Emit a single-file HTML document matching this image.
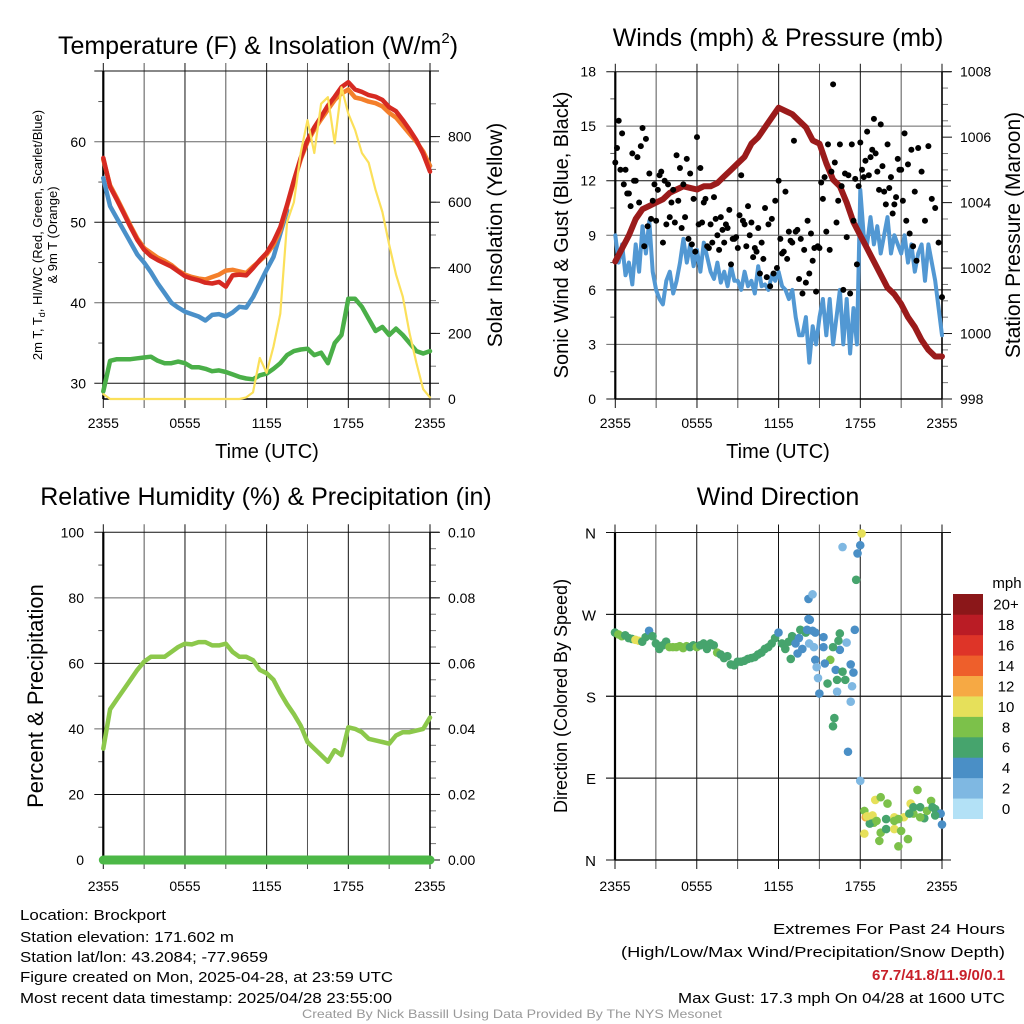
<!DOCTYPE html>
<html><head><meta charset="utf-8"><style>
html,body{margin:0;padding:0;background:#fff;}
svg{display:block;font-family:"Liberation Sans",Arial,sans-serif;}
</style></head><body>
<svg id="chart" width="1024" height="1024" viewBox="0 0 1024 1024">
<rect width="1024" height="1024" fill="#fff"/>
</svg>
<script>
// ---------- DATA (half-hourly, t = 0..24 h since 2355 UTC) ----------
const timeLabels = ["2355","0555","1155","1755","2355"];
const tempRed = [58,54.4,52.8,51.1,49.4,47.8,46.6,45.8,45.3,44.9,44.5,43.9,43.3,43,42.8,42.5,42.4,42.6,42,43.4,43.5,43.4,44.3,45.3,46.2,47.6,49.4,52.2,55.2,58,60.2,61.8,63.1,64.5,65.6,66.8,67.4,66.5,66.2,65.8,65.6,65.2,64.3,63.8,62.7,61.5,60.2,58.5,56.3];
const temp9m = [57.8,54.6,53,51.3,49.6,48,46.8,46.2,45.6,45.2,44.7,44,43.5,43.2,43,42.9,43.2,43.5,44,44.1,43.9,43.7,44.5,45.2,46,47.2,49,52,55,57.8,60,61.5,62.8,64,65.2,66,66.5,65.5,65.3,65,64.8,64.4,63.6,63,62,61,60,58.8,57];
const windChill = [55.5,52,50.5,49,47.5,46,45,43.8,42.4,41.2,40,39.4,38.9,38.6,38.3,37.8,38.5,38.6,38.3,38.8,39.5,39.4,40.7,42.4,44.1,45.7,48.6,51.5,null,null,null,null,null,null,null,null,null,null,null,null,null,null,null,null,null,null,null,58.5,57];
const dewpoint = [29,32.8,33,33,33,33.1,33.2,33.3,32.8,32.5,32.5,32.7,32.5,32,32,31.8,31.5,31.6,31.4,31.1,30.8,30.6,30.5,31,31.2,31.8,32.5,33.5,34,34.2,34.3,33.5,33.8,32.5,35,36,40.5,40.5,39.5,38,36.5,37,36,36.8,36,35,34,33.7,34];
const solar = [15,0,0,0,0,0,0,0,0,0,0,0,0,0,0,0,0,0,0,0,0,5,20,125,80,160,260,540,600,750,850,750,900,920,780,950,870,820,750,720,637,570,470,380,312,200,110,30,5];
// sonic wind every 0.25 h
const windSpeed = [9,7.5,8.5,6.8,7.5,6.3,8.5,7,9.5,8,9.8,7,
6,5.5,5.2,6.5,7,5.8,6.5,7.5,8.8,7.5,8.5,7.3,
8.2,7,8.6,7.8,7,6.6,7.5,6.4,7,6.2,7.3,6.5,
6.5,6,7,6.2,6.5,5.8,7.3,6.2,6.3,6,6.8,6.5,
7,6.2,6,5.5,6,4.5,3.5,3.5,4.5,2,4,3,
4.5,5.5,3.5,5.5,3,4.5,6,3,5.5,2.5,5,3,
11.5,9,8.5,10,8.5,9.5,8,9,10,8,9,8.5,
8,9,7.5,8.5,7,8,8.5,6.5,8.5,7.5,6.5,5,3.5];
const pressure = [1002.2,1002.6,1003,1003.5,1003.8,1003.9,1004,1004.1,1004.3,1004.4,1004.5,1004.45,1004.4,1004.5,1004.5,1004.6,1004.8,1005,1005.2,1005.4,1005.8,1006,1006.3,1006.6,1006.9,1006.8,1006.7,1006.5,1006.3,1005.9,1005.8,1005.2,1004.7,1004.5,1004,1003.4,1003,1002.6,1002.2,1001.8,1001.4,1001.2,1000.9,1000.5,1000.2,999.8,999.5,999.3,999.3];
// gusts every 0.25 h
const gustA = [13,15.3,14.6,12.6,11.3,13.5,12,10.8,14.9,14.3,12.4,10.9,9.8,12.3,8.6,9.6,10,11.5,13.4,12.7,11.8,13.2,12.4,11,14.4,12.7,10.8,8.4,9.6,11.1,9,10,8.6,9.4,7.4,8.8,8.3,12.3,9.6,10.6,9.7,8.3,9.4,8.6,10.5,9.6,9.9,10.9,12,8,11.4,9.2,8.6,9.2,6.6,5.8,6.4,6.9,7.6,5.9,8.3,11,9.2,8.2,17.3,9.7,14,6,8.9,5.8,9.8,7.4,14.1,12.2,14.7,13.3,15.4,12.5,15.1,11.4,14,12.2,10.7,13.2,12.6,14.6,12.9,13.7,11.4,13.8,12.5,9.8,13.9,11,10.5,8.6,5.6];
// gusts offset by 0.125 h
const gustB = [13.8,12.6,11.8,11.3,10.6,12,13.3,13.9,8.4,9.5,9.9,11.8,11.5,12.5,12,11.8,10.8,9.7,10.9,9.4,10,8.8,8.5,8.1,9.6,9.7,11,8.3,8.6,9.9,8.2,9.3,9.6,10.4,8.8,8.9,10.1,9.8,8.4,9,7.8,8.1,6.9,7.7,6.7,6.2,6.9,7.2,8.8,8.1,7.7,8.7,14.2,9.3,8.8,8.2,9.8,9.1,8.3,8.4,11.9,12.2,14,12.5,13,10.9,11.7,12.4,12.3,14,12.1,11.7,12.6,13.1,12.3,13.7,13.5,11.5,12.8,10.7,11.6,10.2,11.1,12.6,10.9,9.8,9.1,8.4,7.6];
const rh = [34,46,49,52,55,58,60.5,62,62,62,63.5,65,66,65.8,66.5,66.5,65.5,65.5,66,63.5,62,62,61,58,57,55,51,47.5,44.5,41,36,34,32,30,33.5,32,40.5,40,39,37,36.5,36,35.5,38,39,39,39.5,40,43.5];
const precip = [0,0,0,0,0,0,0,0,0,0,0,0,0,0,0,0,0,0,0,0,0,0,0,0,0];
const dirTimes = [0,0.25,0.5,0.75,1,1.25,1.5,1.75,2,2.25,2.5,2.75,3,3.25,3.5,3.75,4,4.25,4.5,4.75,5,5.25,5.5,5.75,6,6.25,6.5,6.75,7,7.25,7.5,7.75,8,8.25,8.5,8.75,9,9.25,9.5,9.75,10,10.25,10.5,10.75,11,11.25,11.5,11.75,12,12.25,12.5,12.75,13,13.25,13.5,13.75,14,14.25,14.5,14.2,14.5,14.2,14.3,14.7,15.3,14.6,15.3,15.8,14.7,15.4,14.8,15.6,14.9,15,16.2,16.3,16.3,16.5,16.4,17,16.7,16.9,17.3,17.5,17.4,17.3,16.7,16.1,16,17.1,18,17.7,17.8,18,18.1,17.6,16.5,16,13.4,12.9,13.6,14.1,18.3,18.4,18.9,19.1,19.5,20,19,19.4,19.5,19.9,20.5,20.5,20.8,21,21.2,21.5,21.7,21.9,22.2,22.4,22.7,23.2,23.5,23.8,23.9,24,18.3,18.7,19.9,20.5,21.6,21.9,22.9,23.3,23.5,22.4,18.5,19.2,20.8];
const dirValues = [250,248,246,247,244,243,242,241,240,245,252,246,238,232,236,240,234,234,234,235,233,235,234,236,234,236,238,232,238,236,228,226,222,224,215,214,218,218,219,221,222,223,226,228,232,234,238,244,250,238,232,240,246,238,244,232,250,238,252,287,292,265,264,250,245,234,234,220,220,216,212,194,200,183,209,198,185,249,241,239,207,198,215,206,191,174,344,156,147,119,87,308,337,346,359,253,231,234,227,221,253,253,54,47,49,66,69,62,41,21,30,34,34,47,15,32,47,23,62,51,77,58,46,65,56,51,51,39,29,40,45,43,51,58,54,58,49,47,48,43,45];
const dirSpeeds = [7,8,8,7,7,7,10,10,6,6,4,6,6,6,6,6,8,8,8,8,8,8,7,6,8,6,6,6,6,6,8,6,6,6,6,6,6,6,6,6,6,6,6,6,6,6,6,6,4,6,6,6,6,4,4,4,6,2,4,4,2,4,4,4,4,2,4,8,4,4,2,6,2,4,4,6,2,6,6,2,6,6,4,4,2,2,2,6,6,4,2,6,4,4,10,4,4,6,4,6,6,4,8,12,10,10,8,8,8,8,8,6,10,10,8,8,10,8,10,8,8,6,6,8,6,6,4,4,10,6,6,8,6,6,8,6,6,8,10,8,8];
const speedBinLabels = ["0","2","4","6","8","10","12","14","16","18","20+"];
const speedColors = ["#b3e1f6","#7fb8e2","#4a8fc6","#46a46d","#7cc14a","#e6e05a","#f6a944","#ee5f2b","#de3428","#ba1c25","#8b1719"];
const extremes = "67.7/41.8/11.9/0/0.1";

// ---------- HELPERS ----------
const NS = "http://www.w3.org/2000/svg";
const svg = document.getElementById("chart");
function mk(tag, attrs, parent){
  const e = document.createElementNS(NS, tag);
  for (const k in attrs) e.setAttribute(k, attrs[k]);
  (parent || svg).appendChild(e);
  return e;
}
function txt(str, x, y, size, anchor, parent, extra){
  const t = mk("text", Object.assign({x:x, y:y, "font-size":size, "text-anchor":anchor||"middle", fill:"#000"}, extra||{}), parent);
  t.textContent = str;
  return t;
}
function panel(name, x0, x1, yT, yB){
  const g = mk("g", {});
  
  
  return {g, x0, x1, yT, yB, xs: t => x0 + t*(x1-x0)/24};
}
function grid(p, hLines, leftMinor, rightTicks){
  const g = mk("g", {}, p.g);
  
  
  for (let h=0; h<=24; h+=3){
    const x = p.xs(h);
    mk("line",{x1:x,x2:x,y1:p.yT-8,y2:p.yB+9,stroke:(h%6? "#555":"#111"),"stroke-width":1},g);
  }
  hLines.forEach((y,i)=>{
    mk("line",{x1:p.x0-9,x2:p.x1+9,y1:y,y2:y,stroke:(i%2?"#111":"#666"),"stroke-width":1},g);
  });
  mk("line",{x1:p.x0-9,x2:p.x1+9,y1:p.yT,y2:p.yT,stroke:"#111","stroke-width":1},g);
  leftMinor.forEach(y=>mk("line",{x1:p.x0-5,x2:p.x0,y1:y,y2:y,stroke:"#555","stroke-width":1},g));
  rightTicks.forEach(y=>mk("line",{x1:p.x1,x2:p.x1+6,y1:y,y2:y,stroke:"#777","stroke-width":1},g));
  mk("line",{x1:p.x0,x2:p.x0,y1:p.yT,y2:p.yB,stroke:"#000","stroke-width":2.2},g);
  mk("line",{x1:p.x1,x2:p.x1,y1:p.yT,y2:p.yB,stroke:"#000","stroke-width":1.6},g);
  mk("line",{x1:p.x0,x2:p.x1,y1:p.yB,y2:p.yB,stroke:"#000","stroke-width":1.6},g);
}
function xLabels(p, y){
  timeLabels.forEach((l,i)=>{
    const t = txt(l, p.xs(i*6), y, 14, "middle", p.g);
    
    
  });
}
function line(p, arr, ys, color, w, name){
  let d = "", pen = false;
  arr.forEach((v,i)=>{
    if (v===null){pen=false;return;}
    const x = p.xs(i*24/(arr.length-1)), y = ys(v);
    d += (pen?"L":"M")+x.toFixed(1)+","+y.toFixed(1);
    pen = true;
  });
  const e = mk("path",{d:d,fill:"none",stroke:color,"stroke-width":w,"stroke-linejoin":"round","stroke-linecap":"round"},p.g);
  
  
  return e;
}
function rotText(str, x, y, size, name){
  const t = txt(str, 0, 0, size, "middle", svg, {transform:`translate(${x},${y}) rotate(-90)`});
  
  
  return t;
}

// ---------- PANEL 1: temperature ----------
(function(){
  const p = panel("temperature-panel", 103.3, 430, 71, 399);
  const yL = v => 383.3 - (v-30)*8.05;
  const yR = v => 399 - v*0.328;
  grid(p, [60,50,40,30].map(yL), [35,45,55,65].map(yL), [100,200,300,400,500,600,700,800,900].map(yR));
  [60,50,40,30].forEach(v=>{const t=txt(String(v),86,yL(v)+5,14,"end",p.g);});
  [0,200,400,600,800].forEach(v=>{const t=txt(String(v),448,yR(v)+5,14,"start",p.g);});
  [0,200,400,600,800].forEach(v=>mk("line",{x1:p.x1,x2:p.x1+10,y1:yR(v),y2:yR(v),stroke:"#111"},p.g));
  xLabels(p, 428);
  line(p, windChill, yL, "#4a90c9", 4.5, "wind-chill-line");
  line(p, temp9m, yL, "#f47f2b", 4.5, "temp-9m-line");
  line(p, tempRed, yL, "#d62a22", 4.5, "temp-2m-line");
  line(p, dewpoint, yL, "#4aaf48", 4.5, "dewpoint-line");
  line(p, solar, yR, "#fbe05a", 2.2, "solar-insolation-line");
  const ti = txt("Temperature (F) & Insolation (W/m", 258, 54, 25, "middle", svg);
  const sup = mk("tspan",{"font-size":15,dy:-11},ti); sup.textContent="2";
  const cl = mk("tspan",{"font-size":25,dy:11},ti); cl.textContent=")";
   
  const xt = txt("Time (UTC)", 267, 458, 20, "middle");  
  const l1 = txt("", 0,0,13,"middle",svg,{transform:"translate(42,235) rotate(-90)"});
  l1.innerHTML = '2m T, T<tspan font-size="9" dy="3">d</tspan><tspan dy="-3">, HI/WC (Red, Green, Scarlet/Blue)</tspan>';
   
  rotText("& 9m T (Orange)", 57, 235, 13, "y-axis-title-line2");
  rotText("Solar Insolation (Yellow)", 502, 235, 21, "y2-axis-title");
})();

// ---------- PANEL 2: winds ----------
(function(){
  const p = panel("winds-panel", 615.3, 942, 71.7, 399);
  const yL = v => 399 - v*18.19;
  const yR = v => 399 - (v-998)*32.73;
  const minL=[], minR=[];
  for(let v=1.5;v<18;v+=3) minL.push(yL(v));
  for(let v=998.5;v<1008;v+=0.5) if(v%2) minR.push(yR(v));
  grid(p, [15,12,9,6,3,0].map(yL), minL, minR);
  [0,3,6,9,12,15,18].forEach(v=>{const t=txt(String(v),596,yL(v)+5,14,"end",p.g);});
  [998,1000,1002,1004,1006,1008].forEach(v=>{mk("line",{x1:p.x1,x2:p.x1+10,y1:yR(v),y2:yR(v),stroke:"#111"},p.g);const t=txt(String(v),960,yR(v)+5,14,"start",p.g);});
  xLabels(p, 428);
  line(p, windSpeed, yL, "#5298d3", 4, "sonic-wind-line");
  line(p, pressure, yR, "#9b1b1b", 6, "pressure-line");
  gustA.forEach((v,i)=>{const c=mk("circle",{cx:p.xs(i*0.25),cy:yL(v),r:3,fill:"#000"},p.g);});
  gustB.forEach((v,i)=>{const c=mk("circle",{cx:p.xs(i*0.25+0.125),cy:yL(v),r:3,fill:"#000"},p.g);});
  const ti = txt("Winds (mph) & Pressure (mb)", 778, 46, 25);  
  const xt = txt("Time (UTC)", 778, 458, 20);  
  rotText("Sonic Wind & Gust (Blue, Black)", 568, 235, 20, "y-axis-title");
  rotText("Station Pressure (Maroon)", 1020, 235, 21, "y2-axis-title");
})();

// ---------- PANEL 3: RH ----------
(function(){
  const p = panel("humidity-panel", 103.3, 430, 532.3, 860);
  const yL = v => 860 - v*3.277;
  const yR = v => 860 - v*3277;
  const minL=[]; for(let v=10;v<100;v+=20) minL.push(yL(v));
  const minR=[]; for(let v=0.005;v<0.1;v+=0.005) minR.push(yR(v));
  grid(p, [80,60,40,20].map(yL), minL, minR);
  [0,20,40,60,80,100].forEach(v=>{const t=txt(String(v),84,yL(v)+5,14,"end",p.g);});
  ["0.00","0.02","0.04","0.06","0.08","0.10"].forEach(s=>{const v=parseFloat(s);mk("line",{x1:p.x1,x2:p.x1+10,y1:yR(v),y2:yR(v),stroke:"#111"},p.g);const t=txt(s,448,yR(v)+5,14,"start",p.g);});
  xLabels(p, 891);
  line(p, rh, yL, "#8cc84b", 4.5, "relative-humidity-line");
  line(p, precip, yR, "#4cb847", 9, "precipitation-line");
  const ti = txt("Relative Humidity (%) & Precipitation (in)", 266, 505, 25);  
  rotText("Percent & Precipitation", 43, 696, 22, "y-axis-title");
})();

// ---------- PANEL 4: wind direction ----------
(function(){
  const p = panel("wind-direction-panel", 615, 942, 532.5, 860);
  const yL = v => 860 - v/360*327.5;
  grid(p, [270,180,90].map(yL), [], []);
  ["N","E","S","W","N"].forEach((l,i)=>{mk("line",{x1:p.x0-9,x2:p.x1+9,y1:yL(i*90),y2:yL(i*90),stroke:"#111"},p.g);const t=txt(l,596,yL(i*90)+6,15,"end",p.g);});
  xLabels(p, 891);
  dirValues.forEach((v,i)=>{
    const bin = Math.min(10, Math.floor(dirSpeeds[i]/2));
    const c = mk("circle",{cx:p.xs(dirTimes[i]),cy:yL(v),r:4.3,fill:speedColors[bin]},p.g);
    
    
  });
  const ti = txt("Wind Direction", 778, 505, 25);  
  rotText("Direction (Colored By Speed)", 567, 696, 18, "y-axis-title");
  const lg = mk("g",{});
  
  
  const bh = 224.7/11;
  speedColors.forEach((c,i)=>{
    const y = 818.7 - (i+1)*bh;
    const r = mk("rect",{x:953,y:y,width:30,height:bh+0.3,fill:c},lg);
    
    
    const t = txt(speedBinLabels[i], 1006, y+bh/2+5.5, 15, "middle", lg);
    
    
  });
  const u = txt("mph", 1007, 588, 15, "middle", lg);  
})();

// ---------- FOOTER ----------
(function(){
  const left = ["Location: Brockport","Station elevation: 171.602 m","Station lat/lon: 43.2084; -77.9659","Figure created on Mon, 2025-04-28, at 23:59 UTC","Most recent data timestamp: 2025/04/28 23:55:00"];
  const lw = [146,214,248,373,372];
  const lys = [920,942,962,982,1003];
  left.forEach((s,i)=>{const t=txt(s,20,lys[i],15,"start",svg,{textLength:lw[i],lengthAdjust:"spacingAndGlyphs"});});
  const r1=txt("Extremes For Past 24 Hours",1005,934,15,"end",svg,{textLength:232,lengthAdjust:"spacingAndGlyphs"});  
  const r2=txt("(High/Low/Max Wind/Precipitation/Snow Depth)",1005,957,15,"end",svg,{textLength:384,lengthAdjust:"spacingAndGlyphs"});  
  const r3=txt(extremes,1005,980,15,"end",svg,{fill:"#c8202a","font-weight":"bold",textLength:133,lengthAdjust:"spacingAndGlyphs"});  
  const r4=txt("Max Gust: 17.3 mph On 04/28 at 1600 UTC",1005,1003,15,"end",svg,{textLength:327,lengthAdjust:"spacingAndGlyphs"});  
  const c=txt("Created By Nick Bassill Using Data Provided By The NYS Mesonet",512,1018,12,"middle",svg,{fill:"#999",textLength:420,lengthAdjust:"spacingAndGlyphs"});  
})();
</script>
</body></html>
